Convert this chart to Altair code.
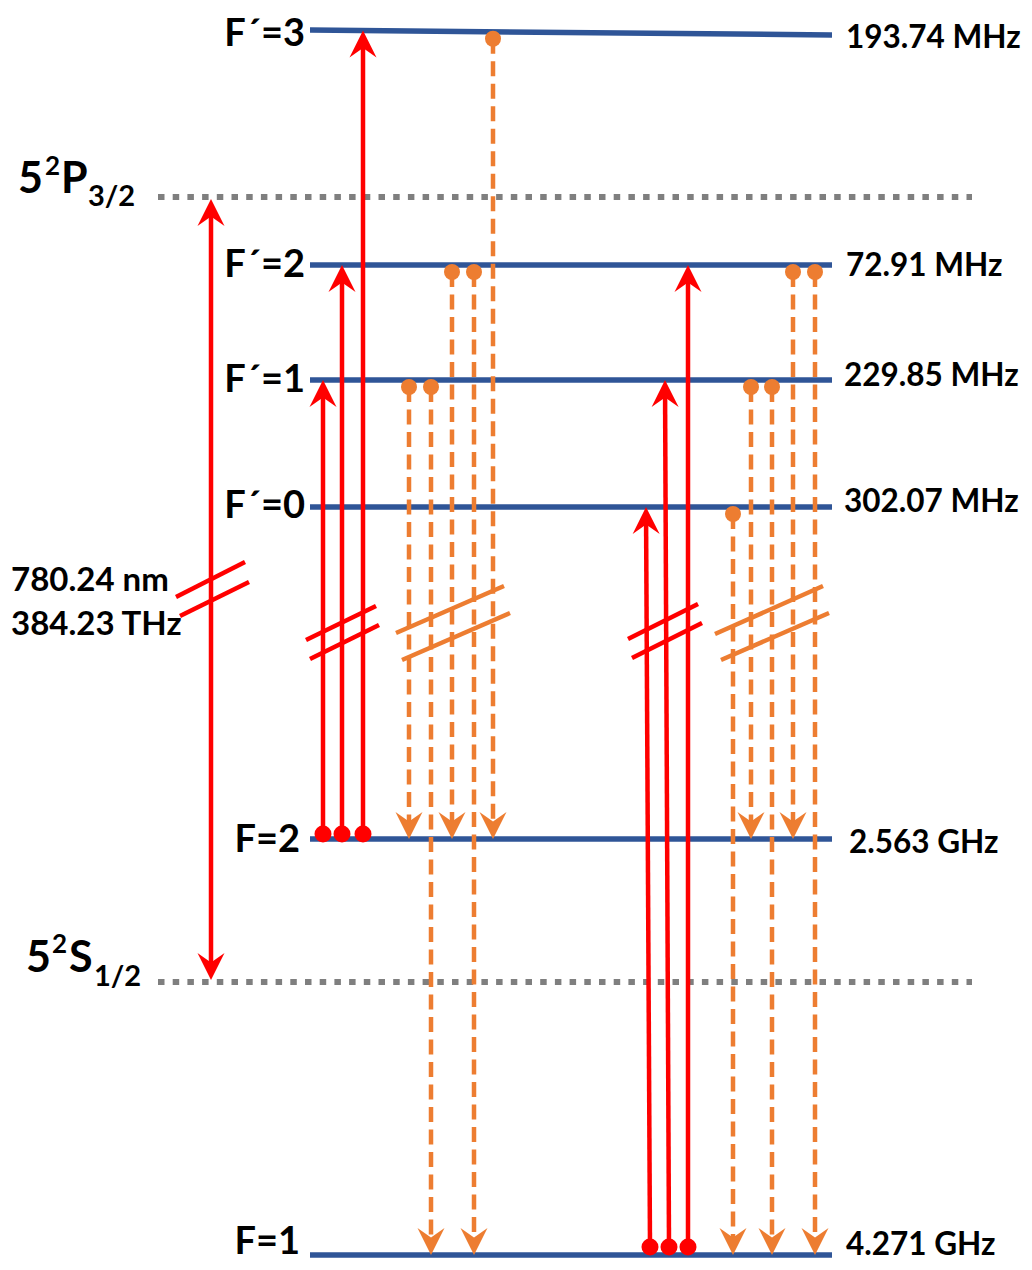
import math
import altair as alt
import pandas as pd

# ---------------- data ----------------
level_names = ["F´=3", "F´=2", "F´=1", "F´=0", "F=2", "F=1"]
level_y_left = [30, 265, 380, 507, 839, 1255]
level_y_right = [35, 265, 380, 507, 839, 1255]
level_x_start = 310
level_x_end = 832
level_freq = ["193.74 MHz", "72.91 MHz", "229.85 MHz", "302.07 MHz", "2.563 GHz", "4.271 GHz"]
name_x = [305, 305, 305, 305, 300, 300]
name_base = [46, 277, 392, 518, 852, 1254]
freq_x = [846, 846, 844, 844, 849, 846]
freq_base = [48, 276, 386, 512, 853, 1255]

fine_y = [197, 982]
fine_x = [158, 972]
# fine-structure labels, composed of pieces: text, x, baseline, font size
fine_pieces_text = ["5", "2", "P", "3/2", "5", "2", "S", "1/2"]
fine_pieces_x = [18, 45, 61, 88, 26, 52, 69, 94]
fine_pieces_base = [193, 175, 193, 206, 972, 953, 972, 986]
fine_pieces_size = [43, 26, 43, 29, 43, 26, 43, 29]

# pumping transitions (red, up)
pump_x_from = [323, 342, 363, 650, 669, 688]
pump_x_to = [323, 342, 363, 646, 665, 688]
pump_from = ["F=2", "F=2", "F=2", "F=1", "F=1", "F=1"]
pump_to = ["F´=1", "F´=2", "F´=3", "F´=0", "F´=1", "F´=2"]

# spontaneous decay (orange, dashed, down)
decay_x = [409, 431, 452, 474, 493, 733, 751, 772, 793, 815]
decay_from = ["F´=1", "F´=1", "F´=2", "F´=2", "F´=3", "F´=0", "F´=1", "F´=1", "F´=2", "F´=2"]
decay_to = ["F=2", "F=1", "F=2", "F=1", "F=2", "F=1", "F=2", "F=1", "F=2", "F=1"]

# D2 optical transition
optical_x = 211
optical_y = [199, 980]
optical_text = ["780.24 nm", "384.23 THz"]
optical_text_x = 11
optical_text_base = [591, 635]

# axis-break marks
red_breaks_x = [176, 180, 306, 310, 628, 632]
red_breaks_y = [597, 616, 640, 659, 639, 658]
red_breaks_x2 = [245, 249, 376, 379, 698, 702]
red_breaks_y2 = [562, 582, 606, 625, 604, 623]
orange_breaks_x = [396, 402, 715, 721]
orange_breaks_y = [633, 660, 634, 660]
orange_breaks_x2 = [504, 510, 823, 829]
orange_breaks_y2 = [586, 613, 586, 613]

# ---------------- styles ----------------
BLUE = "#2F5597"
RED = "#FF0000"
ORANGE = "#ED7D31"
GRAY = "#7F7F7F"
FONT = "Lato"
HEAD = "M0,0 L1,2 L0,1.3 L-1,2 Z"
HEAD_SIZE = 729
HEAD_INSET = 12
W, H = 1016, 1254

X = lambda f="x": alt.X(f"{f}:Q", scale=alt.Scale(domain=[8, 8 + W], nice=False, zero=False), axis=None)
Y = lambda f="y": alt.Y(f"{f}:Q", scale=alt.Scale(domain=[8, 8 + H], nice=False, zero=False, reverse=True), axis=None)


def level_y(name, x):
    i = level_names.index(name)
    a, b = level_y_left[i], level_y_right[i]
    return a + (b - a) * (x - level_x_start) / (level_x_end - level_x_start)


def arrow(x0, y0, x1, y1):
    dx, dy = x1 - x0, y1 - y0
    L = math.hypot(dx, dy)
    ex, ey = x1 - dx / L * HEAD_INSET, y1 - dy / L * HEAD_INSET
    ang = (math.degrees(math.atan2(dx, -dy)) + 360) % 360
    return dict(x=x0, y=y0, x2=ex, y2=ey), dict(x=x1, y=y1, angle=ang)


# levels
lev_df = pd.DataFrame({
    "x": [level_x_start] * 6, "x2": [level_x_end] * 6,
    "y": level_y_left, "y2": level_y_right,
})
fine_df = pd.DataFrame({"x": [fine_x[0]] * 2, "x2": [fine_x[1]] * 2, "y": fine_y, "y2": fine_y})

# red arrows
red_lines, red_heads, red_dots = [], [], []
dot_off = {"F=2": -5, "F=1": -8}
for xa, xb, lo, up in zip(pump_x_from, pump_x_to, pump_from, pump_to):
    y0 = level_y(lo, xa) + dot_off[lo]
    y1 = level_y(up, xb)
    ln, hd = arrow(xa, y0, xb, y1)
    red_lines.append(ln)
    red_heads.append(hd)
    red_dots.append(dict(x=xa, y=y0))
# optical double arrow
ln, hd = arrow(optical_x, optical_y[1], optical_x, optical_y[0])
ln2, hd2 = arrow(optical_x, optical_y[0], optical_x, optical_y[1])
red_lines.append(dict(x=optical_x, y=ln["y2"], x2=optical_x, y2=ln2["y2"]))
red_heads += [hd, hd2]

# orange arrows
or_lines, or_heads, or_dots = [], [], []
for xa, up, lo in zip(decay_x, decay_from, decay_to):
    y0 = level_y(up, xa) + 7
    y1 = level_y(lo, xa)
    ln, hd = arrow(xa, y0, xa, y1)
    or_lines.append(ln)
    or_heads.append(hd)
    or_dots.append(dict(x=xa, y=y0))

red_br = pd.DataFrame({"x": red_breaks_x, "y": red_breaks_y, "x2": red_breaks_x2, "y2": red_breaks_y2})
or_br = pd.DataFrame({"x": orange_breaks_x, "y": orange_breaks_y, "x2": orange_breaks_x2, "y2": orange_breaks_y2})


def rules(df, color, width, dash=None):
    kw = dict(color=color, strokeWidth=width)
    if dash:
        kw["strokeDash"] = dash
    return alt.Chart(pd.DataFrame(df)).mark_rule(**kw).encode(
        x=X(), y=Y(), x2="x2:Q", y2="y2:Q")


def heads(df, color):
    return alt.Chart(pd.DataFrame(df)).mark_point(
        shape=HEAD, filled=True, size=HEAD_SIZE, color=color, opacity=1, strokeWidth=0
    ).encode(x=X(), y=Y(), angle=alt.Angle("angle:Q", scale=None))


def dots(df, color, size):
    return alt.Chart(pd.DataFrame(df)).mark_point(
        shape="circle", filled=True, size=size, color=color, opacity=1, strokeWidth=0
    ).encode(x=X(), y=Y())


def texts(df, align):
    return alt.Chart(pd.DataFrame(df)).mark_text(
        align=align, baseline="alphabetic", font=FONT, fontWeight="bold", color="black"
    ).encode(x=X(), y=Y(), text="t:N", size=alt.Size("s:Q", scale=None))


name_df = {"x": name_x, "y": name_base, "t": level_names, "s": [38] * 6}
freq_df = {"x": freq_x, "y": freq_base, "t": level_freq, "s": [31.5] * 6}
opt_df = {"x": [optical_text_x] * 2, "y": optical_text_base, "t": optical_text, "s": [33, 33]}
fine_txt = {"x": fine_pieces_x, "y": fine_pieces_base, "t": fine_pieces_text, "s": fine_pieces_size}

chart = alt.layer(
    rules(fine_df, GRAY, 6, [6.5, 8.2]),
    rules(lev_df, BLUE, 5.5),
    rules(red_lines, RED, 4.5),
    rules(or_lines, ORANGE, 4.5, [15, 7.5]),
    heads(red_heads, RED),
    heads(or_heads, ORANGE),
    dots(red_dots, RED, 289),
    dots(or_dots, ORANGE, 256),
    rules(red_br, RED, 4.5),
    rules(or_br, ORANGE, 4.5),
    texts(name_df, "right"),
    texts(freq_df, "left"),
    texts(opt_df, "left"),
    texts(fine_txt, "left"),
).properties(
    width=W, height=H, padding=0, autosize="none"
).configure_view(strokeWidth=0)

chart.save("out.html", embed_options={"renderer": "svg", "actions": False})
